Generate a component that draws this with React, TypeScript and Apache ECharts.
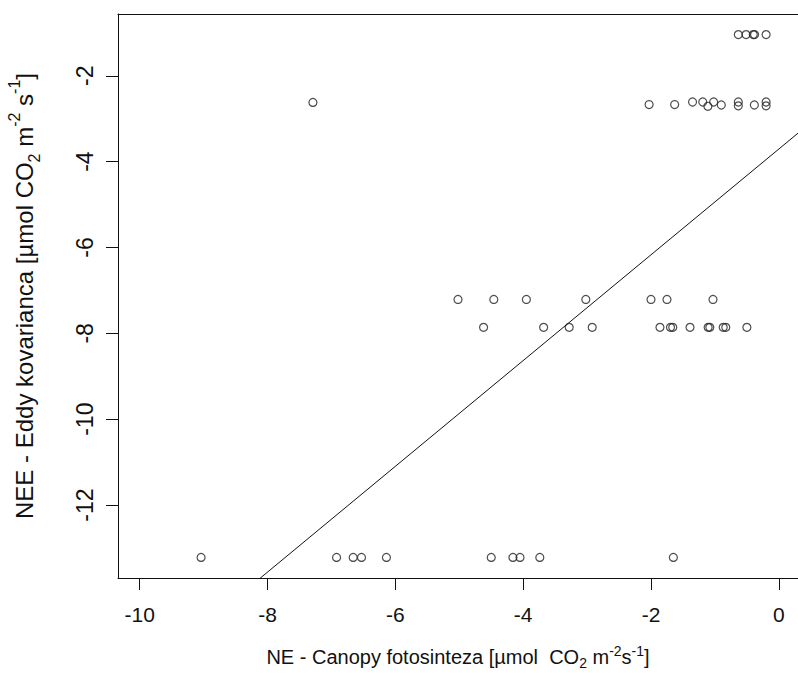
import React, { useEffect, useRef } from "react";
import * as echarts from "echarts";

// Canopy photosynthesis (x) vs eddy covariance NEE (y)
const canopyX = [
  -0.634, -0.513, -0.4, -0.38, -0.199,
  -7.29, -2.03, -1.63, -1.35, -1.19, -1.11, -1.02, -0.9, -0.634, -0.634, -0.383, -0.199, -0.199,
  -5.02, -4.46, -3.95, -3.02, -2.0, -1.75, -1.03,
  -4.62, -3.68, -3.28, -2.92, -1.86, -1.695, -1.66, -1.39, -1.106, -1.08, -0.87, -0.83, -0.5,
  -9.04, -6.92, -6.66, -6.53, -6.14, -4.5, -4.16, -4.05, -3.74, -1.65,
];
const eddyY = [
  -1.04, -1.04, -1.04, -1.04, -1.04,
  -2.62, -2.67, -2.67, -2.61, -2.61, -2.71, -2.61, -2.68, -2.61, -2.7, -2.68, -2.61, -2.7,
  -7.21, -7.21, -7.21, -7.21, -7.21, -7.21, -7.21,
  -7.86, -7.86, -7.86, -7.86, -7.86, -7.86, -7.86, -7.86, -7.86, -7.86, -7.86, -7.86, -7.86,
  -13.22, -13.22, -13.22, -13.22, -13.22, -13.22, -13.22, -13.22, -13.22, -13.22,
];
const xTicks = [-10, -8, -6, -4, -2, 0];
const yTicks = [-12, -10, -8, -6, -4, -2];
const fitIntercept = -3.706;
const fitSlope = 1.232;
const fitXRange = [-12, 2];

const FONT = "'Liberation Sans', Arial, sans-serif";
const INK = "#111";

function makeRich(size: number, lhScale: number) {
  const small = Math.round(size * 0.68);
  const lh = Math.round(size * lhScale);
  const off = Math.round(size * 0.5);
  return {
    n: { fontSize: size, fontFamily: FONT, color: INK, lineHeight: lh },
    sub: { fontSize: small, fontFamily: FONT, color: INK, verticalAlign: "bottom", lineHeight: lh, padding: [off, 0, 0, 0] },
    sup: { fontSize: small, fontFamily: FONT, color: INK, verticalAlign: "top", lineHeight: lh, padding: [0, 0, off, 0] },
  };
}

export default function App() {
  const ref = useRef<HTMLDivElement>(null);
  useEffect(() => {
    if (!ref.current) return;
    const chart = echarts.init(ref.current, undefined, { renderer: "svg" });
    const points = canopyX.map((x, i) => [x, eddyY[i]]);
    const fitLine = fitXRange.map((x) => [x, fitIntercept + fitSlope * x]);
    chart.setOption({
      animation: false,
      backgroundColor: "#fff",
      grid: { left: 118, right: 0, top: 14, bottom: 95, containLabel: false, outerBoundsMode: "none" },
      xAxis: [
        {
          type: "value",
          min: -10.34,
          max: 0.3,
          position: "bottom",
          axisLine: { show: true, onZero: false, lineStyle: { color: INK, width: 1 } },
          axisTick: { show: true, inside: false, length: 12, customValues: xTicks, lineStyle: { color: INK } },
          axisLabel: { show: true, customValues: xTicks, margin: 26, fontSize: 21, fontFamily: FONT, color: INK },
          splitLine: { show: false },
          name: "{n|NE - Canopy fotosinteza [µmol  CO}{sub|2}{n| m}{sup|-2}{n|s}{sup|-1}{n|]}",
          nameLocation: "middle",
          nameGap: 66,
          nameTextStyle: { rich: makeRich(20, 1.3) },
        },
        {
          type: "value",
          min: -10.34,
          max: 0.3,
          position: "top",
          axisLine: { show: true, onZero: false, lineStyle: { color: INK, width: 1 } },
          axisTick: { show: false },
          axisLabel: { show: false },
          splitLine: { show: false },
        },
      ],
      yAxis: {
        type: "value",
        min: -13.7,
        max: -0.56,
        axisLine: { show: true, onZero: false, lineStyle: { color: INK, width: 1 } },
        axisTick: { show: true, inside: false, length: 12, customValues: yTicks, lineStyle: { color: INK } },
        axisLabel: { show: true, customValues: yTicks, rotate: 90, margin: 22, fontSize: 23, fontFamily: FONT, color: INK },
        splitLine: { show: false },
        name: "{n|NEE - Eddy kovarianca [µmol CO}{sub|2}{n| m}{sup|-2}{n| s}{sup|-1}{n|]}",
        nameLocation: "middle",
        nameRotate: 90,
        nameGap: 76,
        nameTextStyle: { rich: makeRich(24, 1.5) },
      },
      series: [
        {
          type: "scatter",
          data: points,
          symbol: "circle",
          symbolSize: 8,
          itemStyle: { color: "transparent", borderColor: "#222", borderWidth: 1.2 },
        },
        {
          type: "line",
          data: fitLine,
          clip: true,
          symbol: "none",
          lineStyle: { color: INK, width: 1 },
        },
      ],
    });
    return () => chart.dispose();
  }, []);
  return (
    <div
      ref={ref}
      style={{ position: "absolute", left: 0, top: 0, width: 798, height: 673 }}
    />
  );
}
